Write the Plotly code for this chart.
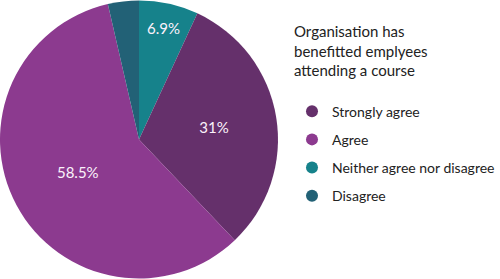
import plotly.graph_objects as go

categories = ["Strongly agree", "Agree", "Neither agree nor disagree", "Disagree"]
values = [31.0, 58.5, 6.9, 3.6]
labels_shown = ["31%", "58.5%", "6.9%", ""]
colors = ["#65306b", "#8c3a8f", "#16828b", "#226176"]
legend_title = "Organisation has<br>benefitted emplyees<br>attending a course"

# clockwise drawing order of slices starting at 12 o'clock
pie_order = [2, 0, 1, 3]

FONT = "Lato"

fig = go.Figure()
fig.add_trace(go.Pie(
    labels=[categories[i] for i in pie_order],
    values=[values[i] for i in pie_order],
    text=[labels_shown[i] for i in pie_order],
    textinfo="text",
    textposition="inside",
    insidetextorientation="horizontal",
    textfont=dict(color="#fbf2fb", size=15, family=FONT),
    marker=dict(colors=[colors[i] for i in pie_order], line=dict(width=0)),
    sort=False,
    direction="clockwise",
    rotation=0,
    showlegend=False,
    domain=dict(x=[0, 0.556], y=[0, 1]),
    hoverinfo="label+percent",
))

for i, (cat, col) in enumerate(zip(categories, colors)):
    fig.add_trace(go.Scatter(
        x=[None], y=[None], mode="markers", name=cat,
        marker=dict(symbol="circle", size=16, color=col),
        legendgroup=f"g{i}", showlegend=True, hoverinfo="skip",
    ))

fig.update_layout(
    width=500, height=279,
    margin=dict(l=0, r=0, t=0, b=0, autoexpand=False),
    paper_bgcolor="white", plot_bgcolor="white",
    font=dict(family=FONT, size=14, color="#222222"),
    xaxis=dict(visible=False), yaxis=dict(visible=False),
    legend=dict(
        x=0.584, y=0.937, xanchor="left", yanchor="top",
        title=dict(text=legend_title + "<br> ", font=dict(size=15, family=FONT, color="#222222")),
        tracegroupgap=7,
        itemsizing="constant",
        font=dict(size=14, family=FONT, color="#222222"),
        bgcolor="rgba(0,0,0,0)",
    ),
)

fig.write_html("out.html")
